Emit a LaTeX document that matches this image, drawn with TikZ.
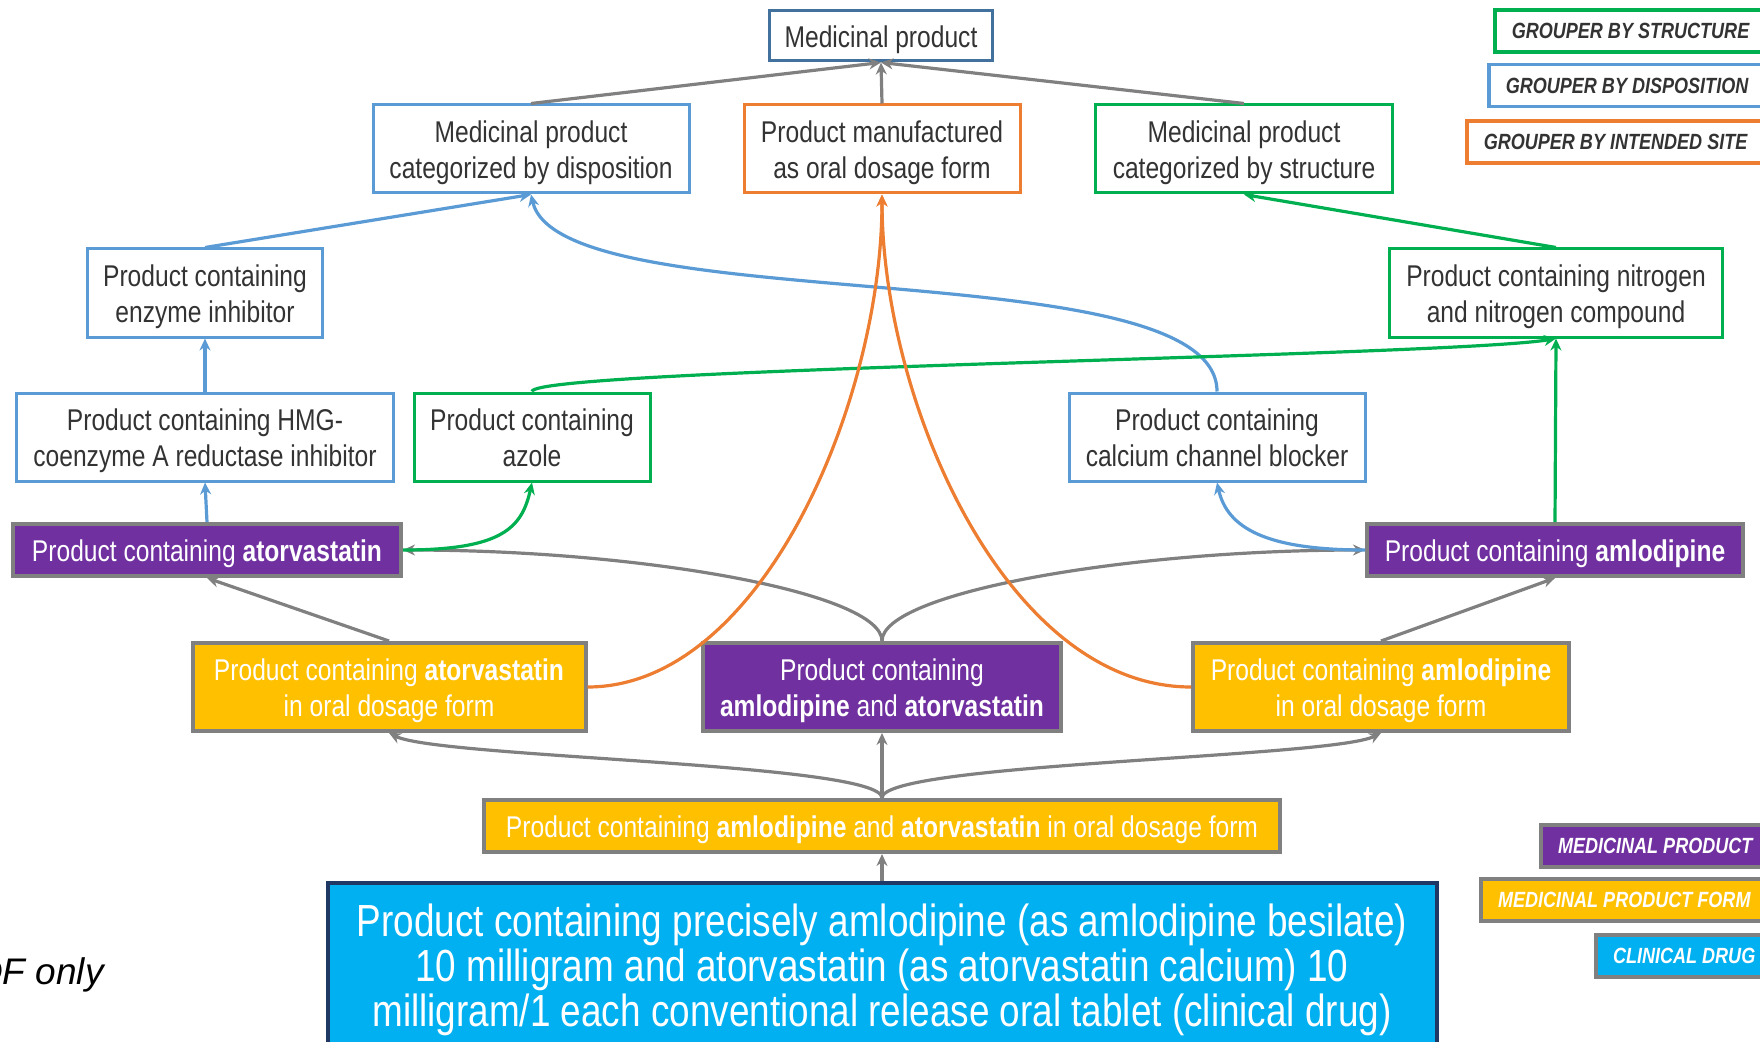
\documentclass[tikz,border=0pt]{standalone}
\usepackage{fontspec}
\setmainfont{Liberation Sans}[FakeStretch=0.82]
\newfontfamily\widesans{Liberation Sans}
\usetikzlibrary{positioning,arrows.meta}
\definecolor{ink}{HTML}{333333}
\definecolor{rim}{HTML}{808080}
\definecolor{topblue}{HTML}{41719C}
\definecolor{dispo}{HTML}{5B9BD5}
\definecolor{siteor}{HTML}{ED7D31}
\definecolor{structgr}{HTML}{00B050}
\definecolor{prodpu}{HTML}{7030A0}
\definecolor{formye}{HTML}{FFC000}
\definecolor{drugcy}{HTML}{00B0F0}
\definecolor{drugrim}{HTML}{203864}

\begin{document}
\begin{tikzpicture}[
  x=0.5pt, y=0.5pt,
  box/.style={draw, line width=1.5pt, fill=white, text=ink, align=center, font=\fontsize{15}{18}\selectfont, inner sep=0pt, minimum height=44pt, text height=31pt, text depth=1.2pt},
  oneline/.style={text height=13pt, text depth=1.2pt},
  dispbox/.style={box, draw=dispo},
  sitebox/.style={box, draw=siteor},
  structbox/.style={box, draw=structgr},
  prodbox/.style={box, draw=rim, line width=2pt, fill=prodpu, text=white},
  formbox/.style={prodbox, fill=formye},
  drugbox/.style={box, draw=drugrim, line width=2pt, fill=drugcy, text=white, font=\fontsize{22.5}{22.5}\selectfont, text height=62.3pt, text depth=1.2pt},
  keybox/.style={draw, line width=1.75pt, fill=white, text=ink, anchor=west, font=\bfseries\itshape\fontsize{11}{13}\selectfont, inner xsep=8.5pt, inner ysep=0pt, minimum height=21pt},
  keyfill/.style={keybox, draw=rim, line width=2pt, text=white},
  link/.style={-{Stealth[length=6pt,width=5.5pt]}, line width=1.6pt},
  isaline/.style={link, draw=rim},
  displine/.style={link, draw=dispo},
  structline/.style={link, draw=structgr},
  siteline/.style={link, draw=siteor},
]
\useasboundingbox (0,0) rectangle (1760,1041);
\clip (0,0) rectangle (1760,1041);

% groupers
\node[box, oneline, draw=topblue, minimum width=111.5pt, minimum height=25pt] (mp) at (881,1005) {Medicinal product};
\node[dispbox, minimum width=158pt] (disp) at (531,892) {Medicinal product\\categorized by disposition};
\node[sitebox, minimum width=138pt] (oral) at (882,892) {Product manufactured\\as oral dosage form};
\node[structbox, minimum width=148.5pt] (struct) at (1244,892) {Medicinal product\\categorized by structure};
\node[dispbox, minimum width=117.5pt] (enz) at (205,748) {Product containing\\enzyme inhibitor};
\node[structbox, minimum width=166.5pt] (nitro) at (1556,748) {Product containing nitrogen\\and nitrogen compound};
\node[dispbox, minimum width=188.5pt] (hmg) at (205,604) {Product containing HMG-\\coenzyme A reductase inhibitor};
\node[structbox, minimum width=118pt] (azole) at (532,604) {Product containing\\azole};
\node[dispbox, minimum width=148pt] (ccb) at (1217,604) {Product containing\\calcium channel blocker};

% products and forms
\node[prodbox, oneline, minimum width=194pt, minimum height=26pt] (atorP) at (207,491) {Product containing \textbf{atorvastatin}};
\node[prodbox, oneline, minimum width=188pt, minimum height=26pt] (amloP) at (1555,491) {Product containing \textbf{amlodipine}};
\node[formbox, minimum width=196.5pt] (atorF) at (389,354) {Product containing \textbf{atorvastatin}\\in oral dosage form};
\node[prodbox, minimum width=179pt] (comboP) at (882,354) {Product containing\\\textbf{amlodipine} and \textbf{atorvastatin}};
\node[formbox, minimum width=188pt] (amloF) at (1381,354) {Product containing \textbf{amlodipine}\\in oral dosage form};
\node[formbox, oneline, minimum width=398pt, minimum height=26pt] (comboF) at (882,215) {Product containing \textbf{amlodipine} and \textbf{atorvastatin} in oral dosage form};
\node[drugbox, minimum width=554.5pt, minimum height=82pt] (drug) at (882,76) {Product containing precisely amlodipine (as amlodipine besilate)\\10 milligram and atorvastatin (as atorvastatin calcium) 10\\milligram/1 each conventional release oral tablet (clinical drug)};

% legend
\node[keybox, draw=structgr] (keyStruct) at (1493,1010) {GROUPER BY STRUCTURE};
\node[keybox, draw=dispo] (keyDisp) at (1487,955.5) {GROUPER BY DISPOSITION};
\node[keybox, draw=siteor] (keySite) at (1465,899) {GROUPER BY INTENDED SITE};
\node[keyfill, fill=prodpu] (keyProd) at (1539,195) {MEDICINAL PRODUCT};
\node[keyfill, fill=formye] (keyForm) at (1479,141.5) {MEDICINAL PRODUCT FORM};
\node[keyfill, fill=drugcy] (keyDrug) at (1594,85) {CLINICAL DRUG};
\node[anchor=east, inner sep=0pt, font=\widesans\itshape\fontsize{18.5}{22}\selectfont] (pdfnote) at (104,66) {PDF only};

% is-a links
\draw[isaline] (disp.north) -- (mp.south);
\draw[isaline] (oral.north) -- (mp.south);
\draw[isaline] (struct.north) -- (mp.south);
\draw[isaline] (atorF.north) -- (atorP.south);
\draw[isaline] (amloF.north) -- (amloP.south);
\draw[isaline] (comboP.north) .. controls +(0,48) and +(240,0) .. (atorP.east);
\draw[isaline] (comboP.north) .. controls +(0,48) and +(-240,0) .. (amloP.west);
\draw[isaline] (comboF.north) -- (comboP.south);
\draw[isaline] (comboF.north) .. controls +(0,35) and +(50,-25) .. (atorF.south);
\draw[isaline] (comboF.north) .. controls +(0,35) and +(-50,-25) .. (amloF.south);
\draw[isaline] (drug.north) -- (comboF.south);

% disposition
\draw[displine] (enz.north) -- (disp.south);
\draw[displine] (hmg.north) -- (enz.south);
\draw[displine] (atorP.north) -- (hmg.south);
\draw[displine] (ccb.north) .. controls +(0,143) and +(29,-127) .. (disp.south);
\draw[displine] (amloP.west) .. controls +(-100,0) and +(10,-45) .. (ccb.south);

% structure
\draw[structline] (nitro.north) -- (struct.south);
\draw[structline] (amloP.north) -- (nitro.south);
\draw[structline] (azole.north) .. controls +(0,23) and +(-106,-18) .. (nitro.south);
\draw[structline] (atorP.east) .. controls +(100,0) and +(-10,-45) .. (azole.south);

% intended site
\draw[siteline] (atorF.east) .. controls +(174,0) and +(0,-207) .. (oral.south);
\draw[siteline] (amloF.west) .. controls +(-185,0) and +(0,-207) .. (oral.south);
\end{tikzpicture}
\end{document}
